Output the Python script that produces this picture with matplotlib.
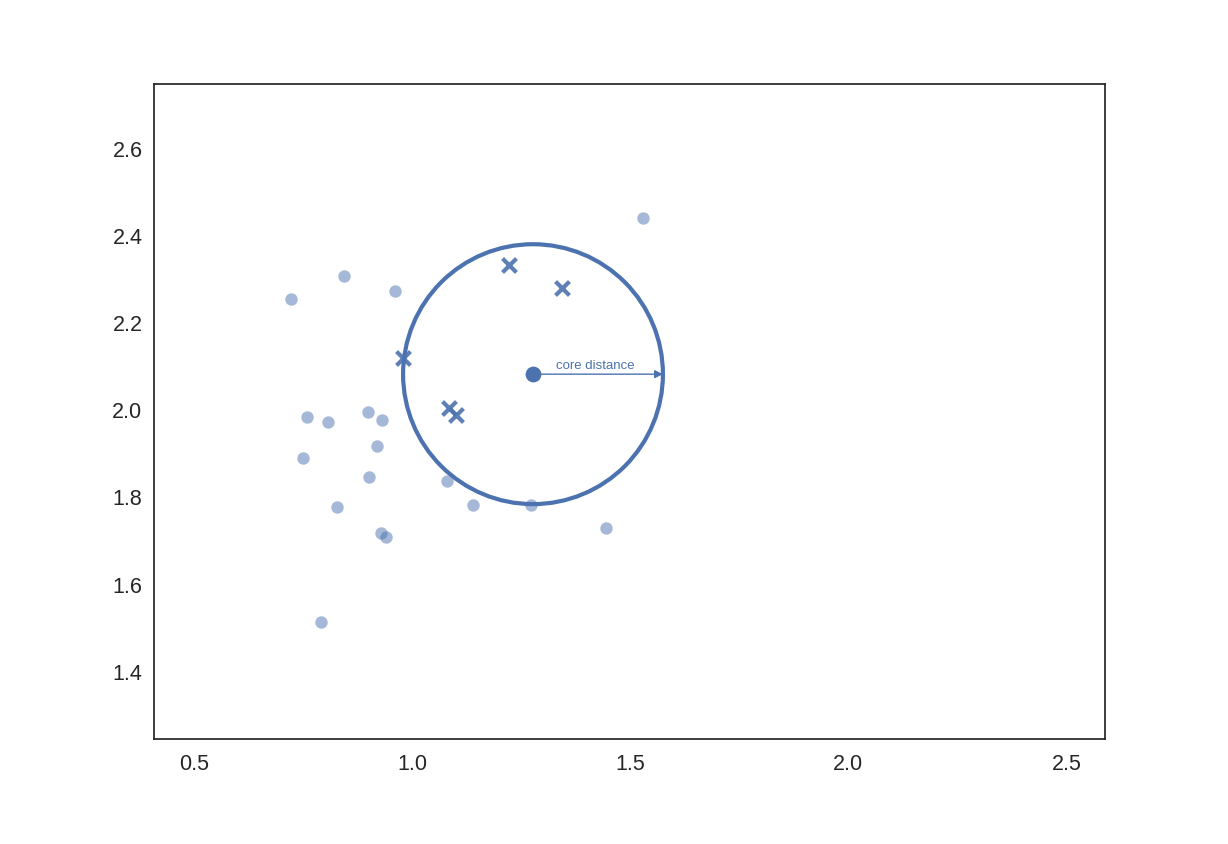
import matplotlib
matplotlib.use("Agg")
import matplotlib.pyplot as plt
import seaborn as sns
import numpy as np

sns.set_style("white")
plt.rcParams['font.family'] = ['Liberation Sans', 'DejaVu Sans']

# background points
bg_x = [0.722, 0.844, 0.960, 1.528, 0.757, 0.807, 0.899, 0.931, 0.919, 0.750,
        0.901, 1.079, 1.139, 1.272, 1.444, 0.828, 0.928, 0.940, 0.791]
bg_y = [2.254, 2.307, 2.273, 2.440, 1.984, 1.973, 1.995, 1.977, 1.918, 1.890,
        1.847, 1.837, 1.782, 1.782, 1.730, 1.778, 1.718, 1.709, 1.515]

# neighbours within core distance
nb_x = [1.221, 1.343, 0.979, 1.084, 1.100]
nb_y = [2.332, 2.279, 2.119, 2.005, 1.989]

# core point and core distance
core_x = 1.2765
core_y = 2.0825
core_dist = 0.298

xlim = (0.406, 2.589)
ylim = (1.247, 2.747)
xticks = [0.5, 1.0, 1.5, 2.0, 2.5]
yticks = [1.4, 1.6, 1.8, 2.0, 2.2, 2.4, 2.6]

color = "#4C72B0"

fig = plt.figure(figsize=(12.28, 8.44), dpi=100)
ax = fig.add_axes([0.125, 0.125, 0.775, 0.775])

ax.scatter(bg_x, bg_y, s=80, color=color, alpha=0.5, linewidths=0)
ax.scatter(nb_x, nb_y, s=100, marker='x', color=color, alpha=0.9, linewidths=3)
ax.scatter([core_x], [core_y], s=130, color=color, linewidths=0)

circ = plt.Circle((core_x, core_y), core_dist, fill=False, color=color, lw=3)
ax.add_patch(circ)

ax.annotate("", xy=(core_x + core_dist, core_y), xytext=(core_x, core_y),
            arrowprops=dict(arrowstyle="-|>", color=color, lw=1, mutation_scale=12,
                            shrinkA=0, shrinkB=0))
ax.text(core_x + core_dist / 2 - 0.005, core_y + 0.005, "core distance", color=color,
        fontsize=9.5, ha='center', va='bottom')

ax.set_xlim(*xlim)
ax.set_ylim(*ylim)
ax.set_xticks(xticks)
ax.set_yticks(yticks)
ax.tick_params(labelsize=15.5, length=0)
ax.tick_params(axis='x', pad=11)
ax.tick_params(axis='y', pad=8)
for s in ax.spines.values():
    s.set_color("#262626")
    s.set_linewidth(1.25)

fig.savefig("out.png", dpi=100)
